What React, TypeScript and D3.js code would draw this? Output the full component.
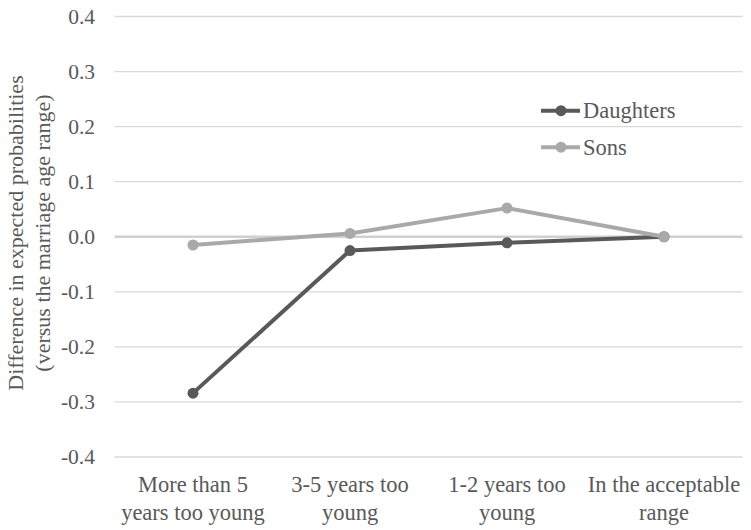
import React from "react";
import * as d3 from "d3";

const categories = ["More than 5 years too young", "3-5 years too young", "1-2 years too young", "In the acceptable range"];
const categoryLines = [["More than 5", "years too young"], ["3-5 years too", "young"], ["1-2 years too", "young"], ["In the acceptable", "range"]];
const daughters = [-0.284, -0.025, -0.011, 0.0];
const sons = [-0.015, 0.006, 0.052, 0.0];
const yTicks = [-0.4, -0.3, -0.2, -0.1, 0.0, 0.1, 0.2, 0.3, 0.4];
const seriesNames = ["Daughters", "Sons"];

const W = 751, H = 530;
const FONT = "Liberation Serif, Tinos, Times New Roman, DejaVu Serif, serif";
const TXT = "#595959";

export default function App() {
  const x = d3.scalePoint<string>().domain(categories).range([114.5, 742.5]).padding(0.5);
  const y = d3.scaleLinear().domain([-0.4, 0.4]).range([457, 16.5]);
  const line = d3.line<number>().x((_, i) => x(categories[i])!).y((d) => y(d));
  const series = [
    { name: seriesNames[0], values: daughters, color: "#595959" },
    { name: seriesNames[1], values: sons, color: "#a9a9a9" },
  ];
  const ts = { fontFamily: FONT } as React.CSSProperties;
  return (
    <svg width={W} height={H} style={{ position: "absolute", left: 0, top: 0, background: "#fff", fontFamily: FONT }}>
      {yTicks.map((t) => (
        <g key={t}>
          <line x1={114.5} x2={742.5} y1={y(t)} y2={y(t)} stroke={t === 0 ? "#d0d0d0" : "#d9d9d9"} strokeWidth={t === 0 ? 2.5 : 1.3} />
          <text x={95} y={y(t)} textAnchor="end" dominantBaseline="central" fontSize={21.5} fill={TXT} style={ts}>
            {t.toFixed(1)}
          </text>
        </g>
      ))}
      <g transform="translate(0,233) rotate(-90)">
        <text x={0} y={23} textAnchor="middle" fontSize={22} fill={TXT} style={ts}>Difference in expected probabilities</text>
        <text x={0} y={50} textAnchor="middle" fontSize={22} fill={TXT} style={ts}>(versus the marriage age range)</text>
      </g>
      {categories.map((c, i) => (
        <g key={c}>
          {categoryLines[i].map((l, j) => (
            <text key={j} x={x(c)} y={484 + j * 28} textAnchor="middle" dominantBaseline="central" fontSize={22.5} fill={TXT} style={ts}>
              {l}
            </text>
          ))}
        </g>
      ))}
      {series.map((s) => (
        <g key={s.name}>
          <path d={line(s.values)!} fill="none" stroke={s.color} strokeWidth={4} strokeLinejoin="round" />
          {s.values.map((v, i) => (
            <circle key={i} cx={x(categories[i])} cy={y(v)} r={5.5} fill={s.color} />
          ))}
        </g>
      ))}
      {series.map((s, i) => {
        const ly = 110.7 + i * 36.5;
        return (
          <g key={s.name}>
            <line x1={541} x2={580} y1={ly} y2={ly} stroke={s.color} strokeWidth={4} />
            <circle cx={561} cy={ly} r={5.5} fill={s.color} />
            <text x={583} y={ly} dominantBaseline="central" fontSize={22.5} fill={TXT} style={ts}>{s.name}</text>
          </g>
        );
      })}
    </svg>
  );
}
